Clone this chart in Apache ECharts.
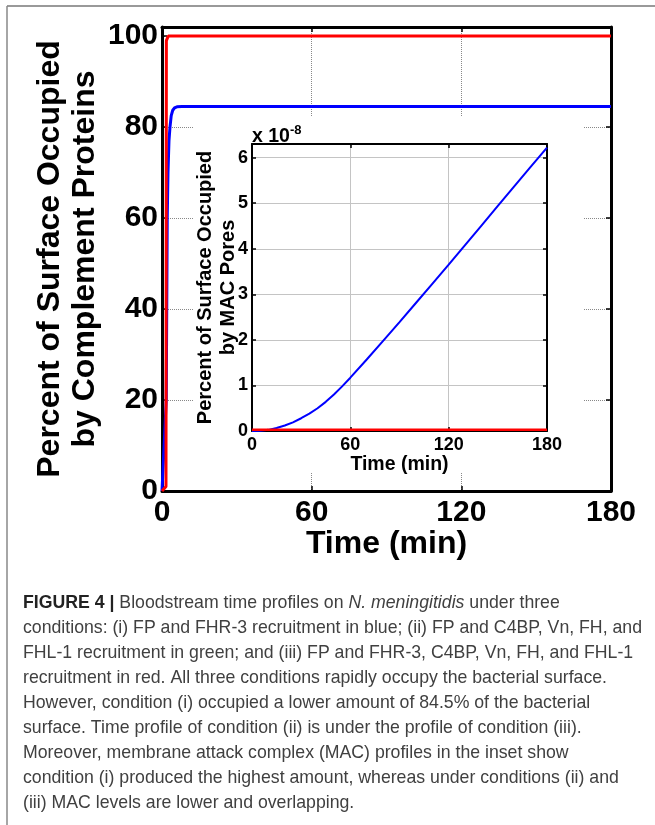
<!DOCTYPE html>
<html>
<head>
<meta charset="utf-8">
<script src="https://cdn.jsdelivr.net/npm/echarts@6/dist/echarts.min.js"></script>
<style>
  html, body { margin: 0; padding: 0; background: #fff; }
  #main { width: 655px; height: 825px; }
</style>
</head>
<body>
<div id="main"></div>
<script>
// main plot: percent of surface occupied (blue = condition i, red = condition iii)
var mainTimeBlue = [0, 1.7, 1.9, 2.1, 2.4, 2.8, 3.2, 3.7, 4.3, 5.0, 6.0, 8.0, 180];
var mainBlue     = [0, 20, 40, 60, 70, 77, 80, 82.5, 83.7, 84.2, 84.45, 84.5, 84.5];
var mainTimeRed  = [0, 1.6, 1.75, 2.5, 180];
var mainRed      = [0, 1, 99, 100, 100];

// inset: MAC pores (x 10^-8)
var insetTime = [0, 5, 10, 15, 20, 25, 30, 35, 40, 45, 50, 55, 60, 70, 80, 90, 100, 110, 120, 130, 140, 150, 160, 170, 180];
var insetBlue = [0, 0.005, 0.025, 0.065, 0.12, 0.19, 0.28, 0.38, 0.5, 0.64, 0.8, 0.98, 1.17, 1.57, 1.98, 2.39, 2.81, 3.23, 3.65, 4.08, 4.51, 4.94, 5.37, 5.8, 6.22];
var insetRed  = [0.03, 0.03, 0.03, 0.03, 0.03, 0.03, 0.03, 0.03, 0.03, 0.03, 0.03, 0.03, 0.03, 0.03, 0.03, 0.03, 0.03, 0.03, 0.03, 0.03, 0.03, 0.03, 0.03, 0.03, 0.03];

var captionLines = [
    '{b|FIGURE 4 |} Bloodstream time profiles on {i|N. meningitidis} under three',
    'conditions: (i) FP and FHR-3 recruitment in blue; (ii) FP and C4BP, Vn, FH, and',
    'FHL-1 recruitment in green; and (iii) FP and FHR-3, C4BP, Vn, FH, and FHL-1',
    'recruitment in red. All three conditions rapidly occupy the bacterial surface.',
    'However, condition (i) occupied a lower amount of 84.5% of the bacterial',
    'surface. Time profile of condition (ii) is under the profile of condition (iii).',
    'Moreover, membrane attack complex (MAC) profiles in the inset show',
    'condition (i) produced the highest amount, whereas under conditions (ii) and',
    '(iii) MAC levels are lower and overlapping.'
];

function zip(a, b) {
    return a.map(function (v, i) { return [v, b[i]]; });
}

var FONT = 'Liberation Sans, Arial, sans-serif';

// axis used for every edge of a box; labels/names added afterwards
function boxAxis(grid, pos, opt) {
    return {
        gridIndex: grid,
        type: 'value',
        position: pos,
        min: opt.min, max: opt.max, interval: opt.interval,
        z: opt.z || 0,
        nameMoveOverlap: false,
        axisLine: { show: true, onZero: false, lineStyle: { color: '#000', width: opt.lw } },
        axisTick: { show: true, inside: true, length: opt.tick, lineStyle: { color: '#000', width: 1.5 } },
        axisLabel: { show: false },
        splitLine: { show: false }
    };
}

var chart = echarts.init(document.getElementById('main'));

var xMain = boxAxis(0, 'bottom', { min: 0, max: 180, interval: 60, lw: 3, tick: 5 });
xMain.axisLabel = { show: true, fontSize: 30, fontWeight: 'bold', color: '#000', fontFamily: FONT, margin: 7 };
xMain.splitLine = { show: true, lineStyle: { color: '#888', type: 'dotted', width: 1 } };
xMain.name = 'Time (min)';
xMain.nameLocation = 'middle';
xMain.nameGap = 37;
xMain.nameTextStyle = { fontSize: 32, fontWeight: 'bold', color: '#000', fontFamily: FONT };

var yMain = boxAxis(0, 'left', { min: 0, max: 102, interval: 20, lw: 3, tick: 5 });
yMain.axisLabel = {
    show: true, fontSize: 30, fontWeight: 'bold', color: '#000', fontFamily: FONT, margin: 4,
    formatter: function (v) { return v % 20 === 0 ? String(v) : ''; }
};
yMain.splitLine = { show: true, lineStyle: { color: '#888', type: 'dotted', width: 1 } };
yMain.name = 'Percent of Surface Occupied\nby Complement Proteins';
yMain.nameLocation = 'middle';
yMain.nameGap = 59;
yMain.nameTextStyle = { fontSize: 32, fontWeight: 'bold', color: '#000', fontFamily: FONT, lineHeight: 35 };

var xInset = boxAxis(1, 'bottom', { min: 0, max: 180, interval: 60, lw: 2, tick: 4, z: 5 });
xInset.axisLabel = { show: true, fontSize: 18, fontWeight: 'bold', color: '#000', fontFamily: FONT, margin: 5 };
xInset.splitLine = { show: true, lineStyle: { color: '#c4c4c4', width: 1 } };
xInset.name = 'Time (min)';
xInset.nameLocation = 'middle';
xInset.nameGap = 24;
xInset.nameTextStyle = { fontSize: 19.5, fontWeight: 'bold', color: '#000', fontFamily: FONT };

var yInset = boxAxis(1, 'left', { min: 0, max: 6.3, interval: 1, lw: 2, tick: 4, z: 5 });
yInset.axisLabel = {
    show: true, fontSize: 18, fontWeight: 'bold', color: '#000', fontFamily: FONT, margin: 4,
    formatter: function (v) { return Math.abs(v - Math.round(v)) < 1e-6 ? String(Math.round(v)) : ''; }
};
yInset.splitLine = { show: true, lineStyle: { color: '#c4c4c4', width: 1 } };
yInset.name = 'Percent of Surface Occupied\nby MAC Pores';
yInset.nameLocation = 'middle';
yInset.nameGap = 12;
yInset.nameTextStyle = { fontSize: 20, fontWeight: 'bold', color: '#000', fontFamily: FONT, lineHeight: 23 };

var yInsetRight = boxAxis(1, 'right', { min: 0, max: 6.3, interval: 1, lw: 2, tick: 4, z: 5 });
// exponent label sits at the start of the inset's top axis
var xInsetTop = boxAxis(1, 'top', { min: 0, max: 180, interval: 60, lw: 2, tick: 4, z: 5 });
xInsetTop.name = 'x 10{s|-8}';
xInsetTop.nameLocation = 'start';
xInsetTop.nameGap = 0;
xInsetTop.nameTextStyle = {
    fontSize: 19.5, fontWeight: 'bold', color: '#000', fontFamily: FONT,
    align: 'left', verticalAlign: 'bottom', lineHeight: 15,
    rich: { s: { fontSize: 13, fontWeight: 'bold', fontFamily: FONT, color: '#000', lineHeight: 15, padding: [0, 0, 12, 0] } }
};

chart.setOption({
    animation: false,
    backgroundColor: '#fff',
    textStyle: { fontFamily: FONT },
    grid: [
        { left: 162, top: 27, width: 449, height: 464 },
        { left: 252, top: 144, width: 295, height: 287 }
    ],
    xAxis: [
        xMain,
        boxAxis(0, 'top', { min: 0, max: 180, interval: 60, lw: 3, tick: 5 }),
        xInset,
        xInsetTop
    ],
    yAxis: [
        yMain,
        boxAxis(0, 'right', { min: 0, max: 102, interval: 20, lw: 3, tick: 5 }),
        yInset,
        yInsetRight
    ],
    graphic: [
        // figure frame
        { type: 'line', shape: { x1: 7, y1: 6, x2: 655, y2: 6 }, style: { stroke: '#777', lineWidth: 1.5 }, z: 10 },
        { type: 'line', shape: { x1: 7, y1: 6, x2: 7, y2: 825 }, style: { stroke: '#888', lineWidth: 1.5 }, z: 10 },
        // white area behind the inset
        { type: 'rect', shape: { x: 193, y: 117, width: 391, height: 356 }, style: { fill: '#fff' }, z: 1 },
        // caption
        {
            type: 'text', left: 23, top: 591, z: 10,
            style: {
                text: captionLines.join('\n'),
                font: '17.7px ' + FONT,
                fill: '#404040',
                lineHeight: 25,
                rich: {
                    b: { fontWeight: 'bold', fontSize: 17.7, fontFamily: FONT, fill: '#222', lineHeight: 25 },
                    i: { fontStyle: 'italic', fontSize: 17.7, fontFamily: FONT, fill: '#404040', lineHeight: 25 }
                }
            }
        }
    ],
    series: [
        {
            name: 'FP + FHR-3', type: 'line', xAxisIndex: 0, yAxisIndex: 0,
            showSymbol: false, data: zip(mainTimeBlue, mainBlue),
            lineStyle: { color: '#0000ff', width: 3 }, itemStyle: { color: '#0000ff' }, z: 2
        },
        {
            name: 'FP + FHR-3, C4BP, Vn, FH, FHL-1', type: 'line', xAxisIndex: 0, yAxisIndex: 0,
            showSymbol: false, data: zip(mainTimeRed, mainRed),
            lineStyle: { color: '#ff0000', width: 3 }, itemStyle: { color: '#ff0000' }, z: 3
        },
        {
            name: 'MAC blue', type: 'line', xAxisIndex: 2, yAxisIndex: 2,
            showSymbol: false, data: zip(insetTime, insetBlue),
            lineStyle: { color: '#0000ff', width: 2 }, itemStyle: { color: '#0000ff' }, z: 6
        },
        {
            name: 'MAC red', type: 'line', xAxisIndex: 2, yAxisIndex: 2,
            showSymbol: false, data: zip(insetTime, insetRed),
            lineStyle: { color: '#ff0000', width: 2.5 }, itemStyle: { color: '#ff0000' }, z: 7
        }
    ]
});
</script>
</body>
</html>
